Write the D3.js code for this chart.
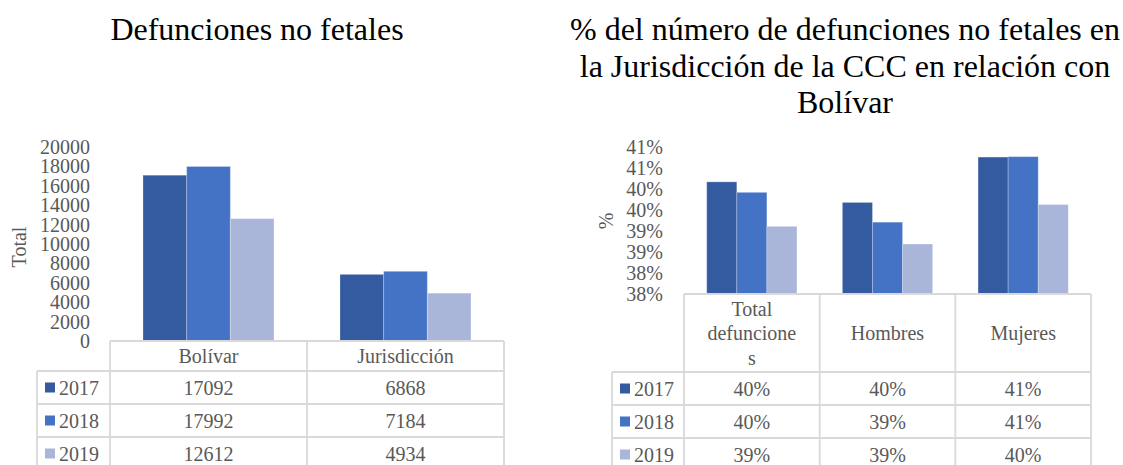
<!DOCTYPE html>
<html>
<head>
<meta charset="utf-8">
<script src="https://cdn.jsdelivr.net/npm/d3@7"></script>
<style>
  body { margin: 0; background: #fff; }
  svg text { font-family: 'Liberation Serif', 'Times New Roman', serif; }
</style>
</head>
<body>
<svg id="chart" width="1123" height="465"></svg>
<script>
// series shared by both charts
const years = ["2017", "2018", "2019"];
const colors = ["#345b9f", "#4472c4", "#a9b6da"];

// left chart: total deaths
const lugares = ["Bolívar", "Jurisdicción"];
const total2017 = [17092, 6868];
const total2018 = [17992, 7184];
const total2019 = [12612, 4934];
const totalTicks = [0, 2000, 4000, 6000, 8000, 10000, 12000, 14000, 16000, 18000, 20000];

// right chart: % of Bolivar (values in percent)
const sexos = ["Total defunciones", "Hombres", "Mujeres"];
const sexoLineas = [["Total", "defuncione", "s"], ["Hombres"], ["Mujeres"]];
const pct2017 = [40.17, 39.68, 40.76];
const pct2018 = [39.92, 39.21, 40.77];
const pct2019 = [39.11, 38.69, 39.63];
const pctTicks = [37.5, 38, 38.5, 39, 39.5, 40, 40.5, 41];

const svg = d3.select("#chart");
const gridColor = "#d9d9d9";
const textColor = "#595959";

function drawChart(c) {
  const g = svg.append("g");

  const x0 = d3.scaleBand().domain(c.cats).range([c.left, c.right]);
  const x1 = d3.scaleBand().domain(years)
    .range([x0.bandwidth() * 0.1675, x0.bandwidth() * 0.8325]);
  const y = d3.scaleLinear().domain(c.domain).range([c.bottom, c.top]);

  // y axis labels only
  const axis = g.append("g")
    .attr("transform", `translate(${c.axisX},0)`)
    .call(d3.axisLeft(y).tickValues(c.ticks).tickSize(0).tickPadding(3).tickFormat(c.tickFormat));
  axis.select(".domain").remove();
  axis.selectAll("text").attr("font-size", 20).attr("fill", textColor)
    .style("font-family", "'Liberation Serif', serif");

  // axis title
  g.append("text")
    .attr("transform", `translate(${c.yTitleX},${c.yTitleY}) rotate(-90)`)
    .attr("text-anchor", "middle").attr("dy", "0.35em")
    .attr("font-size", 20).attr("fill", textColor)
    .text(c.yTitle);

  // bars
  const series = years.map((yr, i) => ({ year: yr, color: colors[i], values: c.series[i] }));
  g.selectAll(".serie")
    .data(series)
    .enter().append("g")
      .attr("fill", d => d.color)
    .selectAll("rect")
    .data(d => d.values.map((v, j) => ({ year: d.year, cat: c.cats[j], v: v })))
    .enter().append("rect")
      .attr("x", d => x0(d.cat) + x1(d.year))
      .attr("width", x1.bandwidth())
      .attr("y", d => y(d.v))
      .attr("height", d => c.bottom - y(d.v))
      .attr("stroke", "#fff").attr("stroke-opacity", 0.25).attr("stroke-width", 1);

  // data table
  const rowH = 33;
  const rowTops = years.map((yr, i) => c.headerBottom + i * rowH);
  const tableBottom = c.headerBottom + years.length * rowH + 5;
  const lines = g.append("g").attr("stroke", gridColor).attr("stroke-width", 1.8);

  lines.append("line")
    .attr("x1", c.left).attr("x2", c.right).attr("y1", c.bottom).attr("y2", c.bottom);
  lines.selectAll(".hrow")
    .data(rowTops)
    .enter().append("line")
      .attr("x1", c.legendX).attr("x2", c.right)
      .attr("y1", d => d).attr("y2", d => d);
  lines.selectAll(".vcol")
    .data(c.cats.map(d => x0(d)).concat([c.right]))
    .enter().append("line")
      .attr("x1", d => d).attr("x2", d => d)
      .attr("y1", c.bottom).attr("y2", tableBottom);
  lines.append("line")
    .attr("x1", c.legendX).attr("x2", c.legendX)
    .attr("y1", c.headerBottom).attr("y2", tableBottom);

  // header labels (wrapped lines)
  const lh = 24.5;
  c.labels.forEach((ls, j) => {
    const cy = (c.bottom + c.headerBottom) / 2;
    g.append("text")
      .attr("x", x0(c.cats[j]) + x0.bandwidth() / 2)
      .attr("text-anchor", "middle")
      .attr("font-size", 20).attr("fill", textColor)
      .selectAll("tspan")
      .data(ls)
      .enter().append("tspan")
        .attr("x", x0(c.cats[j]) + x0.bandwidth() / 2)
        .attr("y", (d, k) => cy + (k - (ls.length - 1) / 2) * lh)
        .attr("dy", "0.35em")
        .text(d => d);
  });

  // legend keys + values per row
  series.forEach((s, i) => {
    const cy = rowTops[i] + rowH / 2;
    g.append("rect")
      .attr("x", c.legendX + 8).attr("y", cy - 5)
      .attr("width", 10).attr("height", 10)
      .attr("fill", s.color);
    g.append("text")
      .attr("x", c.legendX + 22).attr("y", cy).attr("dy", "0.35em")
      .attr("font-size", 20).attr("fill", textColor)
      .text(s.year);
    g.selectAll(null)
      .data(s.values)
      .enter().append("text")
        .attr("x", (d, j) => x0(c.cats[j]) + x0.bandwidth() / 2)
        .attr("y", cy).attr("dy", "0.35em")
        .attr("text-anchor", "middle")
        .attr("font-size", 20).attr("fill", textColor)
        .text(c.cellFormat);
  });

  // title
  g.append("text")
    .attr("text-anchor", "middle")
    .attr("font-size", 32).attr("fill", "#000")
    .selectAll("tspan")
    .data(c.title)
    .enter().append("tspan")
      .attr("x", c.titleX)
      .attr("y", (d, k) => c.titleY + k * 36.5)
      .text(d => d);
}

drawChart({
  cats: lugares,
  labels: lugares.map(d => [d]),
  series: [total2017, total2018, total2019],
  domain: [0, 20000], ticks: totalTicks,
  tickFormat: d => d,
  cellFormat: d => d,
  left: 110, right: 504, top: 147, bottom: 341,
  headerBottom: 371, legendX: 37, axisX: 93,
  yTitle: "Total", yTitleX: 19, yTitleY: 247,
  title: ["Defunciones no fetales"], titleX: 257, titleY: 40
});

drawChart({
  cats: sexos,
  labels: sexoLineas,
  series: [pct2017, pct2018, pct2019],
  domain: [37.5, 41], ticks: pctTicks,
  tickFormat: d => Math.round(d) + "%",
  cellFormat: d => Math.round(d) + "%",
  left: 684, right: 1091, top: 147, bottom: 294,
  headerBottom: 372, legendX: 612, axisX: 666,
  yTitle: "%", yTitleX: 606, yTitleY: 221,
  title: ["% del número de defunciones no fetales en", "la Jurisdicción de la CCC en relación con", "Bolívar"],
  titleX: 845, titleY: 40
});
</script>
</body>
</html>
